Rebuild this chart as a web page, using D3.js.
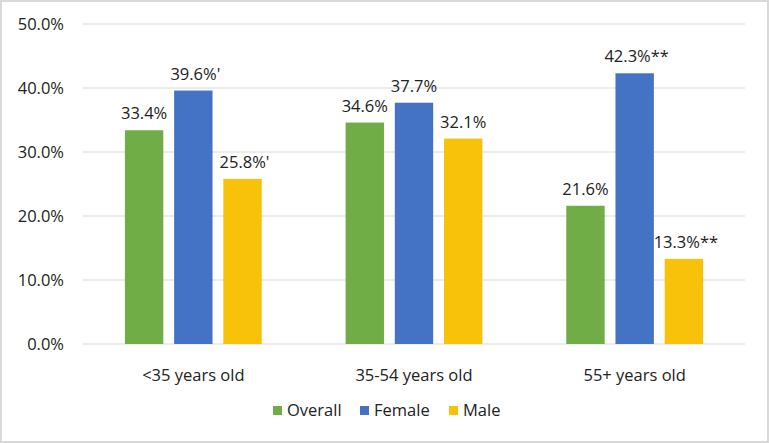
<!DOCTYPE html>
<html><head><meta charset="utf-8">
<script src="https://cdn.jsdelivr.net/npm/d3@7"></script>
<style>body{margin:0;background:#fff;}svg{display:block;}</style>
</head><body>
<script>
const categories = ["<35 years old", "35-54 years old", "55+ years old"];
const seriesNames = ["Overall", "Female", "Male"];
const overall = [33.4, 34.6, 21.6];
const female = [39.6, 37.7, 42.3];
const male = [25.8, 32.1, 13.3];
const labelSuffix = {Overall: ["", "", ""], Female: ["'", "", "**"], Male: ["'", "", "**"]};
const yTicks = [0, 10, 20, 30, 40, 50];
const colors = {Overall: "#70ad47", Female: "#4472c4", Male: "#f9c20a"};

const seriesValues = {Overall: overall, Female: female, Male: male};
const W = 769, H = 443;
const font = "'Open Sans', 'Noto Sans', sans-serif";
const fs = 16.5;
const svg = d3.select("body").append("svg").attr("width", W).attr("height", H);
svg.append("rect").attr("x", 1).attr("y", 1).attr("width", W - 2).attr("height", H - 2)
  .attr("fill", "#fff").attr("stroke", "#d9d9d9").attr("stroke-width", 2);

const pLeft = 83, pRight = 745, pTop = 24, pBottom = 344;
const y = d3.scaleLinear().domain([0, 50]).range([pBottom, pTop]);
const x0 = d3.scaleBand().domain(categories).range([pLeft, pRight]).paddingInner(0.38).paddingOuter(0.19);
const x1 = d3.scaleBand().domain(seriesNames).range([0, x0.bandwidth()]).paddingInner(0.22);

const g = svg.append("g");
g.selectAll("line.grid").data(yTicks).join("line")
  .attr("x1", pLeft).attr("x2", pRight).attr("y1", d => y(d)).attr("y2", d => y(d))
  .attr("stroke", "#d9d9d9").attr("stroke-width", 1);

g.selectAll("text.ytick").data(yTicks).join("text")
  .attr("x", 64).attr("y", d => y(d)).attr("dy", "0.35em").attr("text-anchor", "end")
  .attr("font-family", font).attr("font-size", fs).attr("fill", "#222")
  .text(d => d3.format(".1f")(d) + "%");

categories.forEach((c, i) => {
  seriesNames.forEach(s => {
    const v = seriesValues[s][i];
    const bx = x0(c) + x1(s);
    g.append("rect").attr("x", bx).attr("y", y(v)).attr("width", x1.bandwidth())
      .attr("height", y(0) - y(v)).attr("fill", colors[s]);
    g.append("text").attr("x", bx + x1.bandwidth() / 2 + (labelSuffix[s][i] ? 2 : 0)).attr("y", y(v) - 11)
      .attr("text-anchor", "middle").attr("font-family", font).attr("font-size", fs).attr("fill", "#222")
      .text(d3.format(".1f")(v) + "%" + labelSuffix[s][i]);
  });
  g.append("text").attr("x", x0(c) + x0.bandwidth() / 2).attr("y", 375).attr("dy", "0.35em")
    .attr("text-anchor", "middle").attr("font-family", font).attr("font-size", fs).attr("fill", "#222")
    .text(c);
});

const legendX = [273, 360, 449];
seriesNames.forEach((s, i) => {
  g.append("rect").attr("x", legendX[i]).attr("y", 406).attr("width", 9).attr("height", 9).attr("fill", colors[s]);
  g.append("text").attr("x", legendX[i] + 14).attr("y", 410.5).attr("dy", "0.35em")
    .attr("font-family", font).attr("font-size", fs).attr("fill", "#222").text(s);
});
</script>
</body></html>
